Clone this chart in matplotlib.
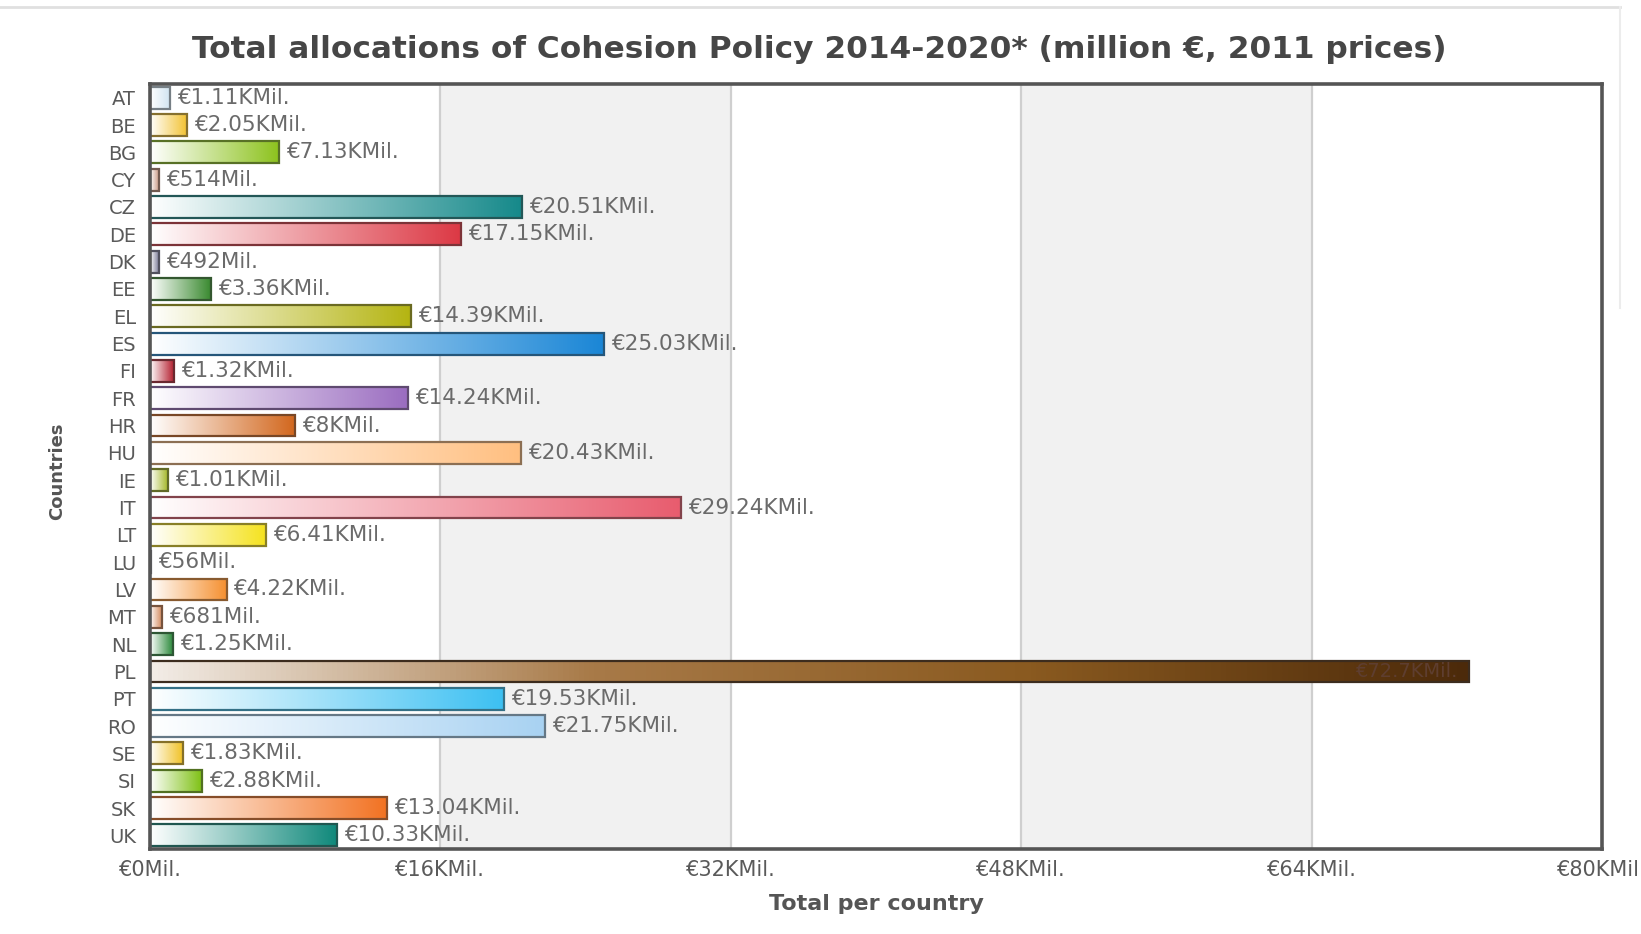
import matplotlib

matplotlib.use("Agg")
import matplotlib.pyplot as plt
import numpy as np
from matplotlib.colors import LinearSegmentedColormap, to_rgb
from matplotlib.lines import Line2D

# data (million EUR, 2011 prices)
countries = ["AT", "BE", "BG", "CY", "CZ", "DE", "DK", "EE", "EL", "ES",
             "FI", "FR", "HR", "HU", "IE", "IT", "LT", "LU", "LV", "MT",
             "NL", "PL", "PT", "RO", "SE", "SI", "SK", "UK"]
allocations = [1110, 2050, 7130, 514, 20510, 17150, 492, 3360, 14390, 25030,
               1320, 14240, 8000, 20430, 1010, 29240, 6410, 56, 4220, 681,
               1250, 72700, 19530, 21750, 1830, 2880, 13040, 10330]
x_ticks = [0, 16000, 32000, 48000, 64000, 80000]

bar_colors = ["#cfe3f0", "#f2c12e", "#8cc21c", "#c4907a", "#15898a", "#dc3844",
              "#7c7c98", "#3a8a30", "#b4b410", "#1a86d6", "#b42030", "#9a6cc0",
              "#d2661c", "#ffbf80", "#a0b41e", "#e85c6e", "#f5e21c", "#b0b0c0",
              "#f59030", "#d08050", "#2c8a3c", "#4c2a0a", "#3cc0f2", "#a8d2f2",
              "#f0c020", "#7cc010", "#f27222", "#0e887a"]


def fmt(v):
    if v >= 1000:
        return f"€{v / 1000:g}KMil."
    return f"€{v:g}Mil."


def tick_fmt(v):
    return "€0Mil." if v == 0 else f"€{v / 1000:g}KMil."


fig = plt.figure(figsize=(16.41, 9.34), dpi=100)
ax = fig.add_axes((0.0914, 0.091, 0.8848, 0.819))

y = np.arange(len(countries))

# alternating background bands and grid lines
for i in range(len(x_ticks) - 1):
    if i % 2 == 1:
        ax.axvspan(x_ticks[i], x_ticks[i + 1], color="#f1f1f1", zorder=0, lw=0)
for t in x_ticks[1:-1]:
    ax.axvline(t, color="#cfcfcf", lw=1.6, zorder=1)

bars = ax.barh(y, allocations, height=0.8, facecolor="none", zorder=3)

grad = np.linspace(0, 1, 256).reshape(1, -1)
for patch, value, color, name in zip(bars.patches, allocations, bar_colors, countries):
    rgb = np.array(to_rgb(color))
    if name == "PL":
        cmap = LinearSegmentedColormap.from_list(
            "g", ["#f2ece6", "#a87a48", "#8a5a20", rgb])
    else:
        cmap = LinearSegmentedColormap.from_list("g", ["#ffffff", rgb])
    x0, w = patch.get_x(), patch.get_width()
    y0, h = patch.get_y(), patch.get_height()
    ax.imshow(grad, cmap=cmap, extent=(x0, x0 + w, y0 + h, y0), aspect="auto",
              interpolation="bicubic", zorder=2)
    edge = 0.45 * rgb + 0.55 * np.array(to_rgb("#2e2e2e"))
    patch.set_edgecolor(edge)
    patch.set_linewidth(1.6)

    if name == "PL":
        # label sits inside the long bar, barely visible
        ax.annotate(fmt(value), xy=(x0 + w, y0 + h / 2), xytext=(-8, 0),
                    textcoords="offset points", ha="right", va="center",
                    fontsize=14, color="#5e3e30", zorder=4)
    else:
        ax.annotate(fmt(value), xy=(x0 + w, y0 + h / 2), xytext=(5, 0),
                    textcoords="offset points", ha="left", va="center",
                    fontsize=15.5, color="#6a6a6a", zorder=4)

ax.set_xlim(x_ticks[0], x_ticks[-1])
ax.set_ylim(len(countries) - 0.5, -0.5)

ax.set_yticks(y)
ax.set_yticklabels(countries, fontsize=14, color="#5a5a5a")
ax.set_xticks(x_ticks)
ax.set_xticklabels([tick_fmt(t) for t in x_ticks], fontsize=15, color="#5a5a5a")
ax.tick_params(axis="y", length=0, pad=10)
ax.tick_params(axis="x", length=0, pad=8)

for side, sp in ax.spines.items():
    sp.set_color("#555555")
    sp.set_linewidth(2.6)
    sp.set_zorder(5)

ax.set_xlabel("Total per country", fontsize=16, fontweight="bold",
              color="#555555", labelpad=10)
fig.text(0.035, 0.495, "Countries", rotation=90, fontsize=13,
         fontweight="bold", color="#555555", ha="center", va="center")
fig.text(0.499, 0.9475,
         "Total allocations of Cohesion Policy 2014-2020* (million €, 2011 prices)",
         fontsize=22.5, fontweight="bold", color="#464646", ha="center", va="center")

# faint frame of the surrounding page box
fig.add_artist(Line2D([0.0, 0.987], [0.992, 0.992], color="#e0e0e0", lw=2,
                      transform=fig.transFigure))
fig.add_artist(Line2D([0.987, 0.987], [0.992, 0.67], color="#ececec", lw=1.5,
                      transform=fig.transFigure))

fig.savefig("out.png", dpi=100, facecolor="white")
